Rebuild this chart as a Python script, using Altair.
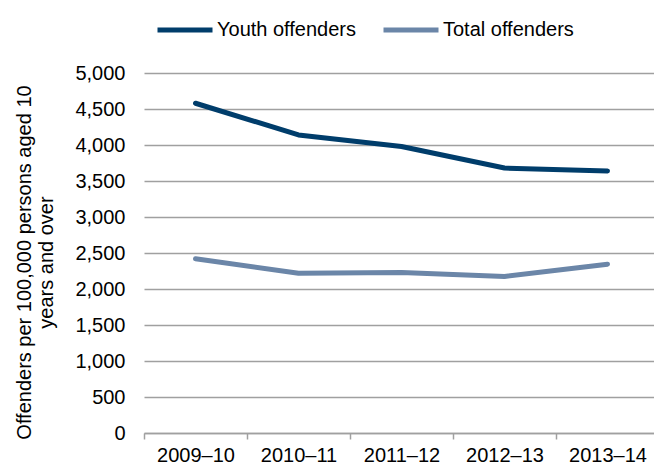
import altair as alt
import pandas as pd

years = ["2009–10", "2010–11", "2011–12", "2012–13", "2013–14"]
youth = [4580, 4140, 3980, 3680, 3640]
total = [2420, 2220, 2230, 2175, 2345]
series = ["Youth offenders", "Total offenders"]
colors = ["#003d6b", "#6b86a8"]
y_ticks = [0, 500, 1000, 1500, 2000, 2500, 3000, 3500, 4000, 4500, 5000]

rows = []
for s, vals in zip(series, [youth, total]):
    for yr, v in zip(years, vals):
        rows.append({"year": yr, "series": s, "value": v})
df = pd.DataFrame(rows)

FONT = "Liberation Sans"
GRID = "#a0a0a0"

chart = alt.Chart(df).mark_line(
    strokeWidth=5, strokeCap="round", strokeJoin="round"
).encode(
    x=alt.X(
        "year:N", sort=years,
        scale=alt.Scale(type="band", paddingInner=0, paddingOuter=0, range=[0, 515]),
        axis=alt.Axis(
            title=None, labelAngle=0, tickBand="extent", grid=False,
            domainColor=GRID, domainWidth=1.5, tickColor=GRID, tickWidth=1.5,
            tickSize=6, labelPadding=6, labelFontSize=20, labelFont=FONT,
            labelColor="#000000",
        ),
    ),
    y=alt.Y(
        "value:Q",
        scale=alt.Scale(domain=[0, 5000], nice=False, zero=True),
        axis=alt.Axis(
            values=y_ticks, format=",.0f", domain=False, ticks=False,
            grid=True, gridColor=GRID, gridWidth=1.5,
            labelPadding=19, labelFontSize=20, labelFont=FONT, labelColor="#000000",
            title=["Offenders per 100,000 persons aged 10", "years and over"],
            titleFont=FONT, titleFontSize=20, titleFontWeight="normal",
            titleColor="#000000", titleLineHeight=22, titleX=-110, titleY=189,
            titleAngle=270, titleBaseline="bottom", titleAlign="center",
        ),
    ),
    color=alt.Color(
        "series:N", sort=series,
        scale=alt.Scale(domain=series, range=colors),
        legend=alt.Legend(
            title=None, orient="none", legendX=11, legendY=-73,
            direction="horizontal", symbolType="stroke", symbolSize=3025,
            symbolStrokeWidth=5, labelFontSize=20, labelFont=FONT,
            labelColor="#000000", labelOffset=2, columnPadding=16,
        ),
    ),
).properties(
    width=510, height=360,
    autosize=alt.AutoSizeParams(type="none"),
    padding={"left": 144, "top": 73, "right": 0, "bottom": 33},
    background="white",
).configure_view(stroke=None)

chart.save("out.html", embed_options={"renderer": "svg", "actions": False})
